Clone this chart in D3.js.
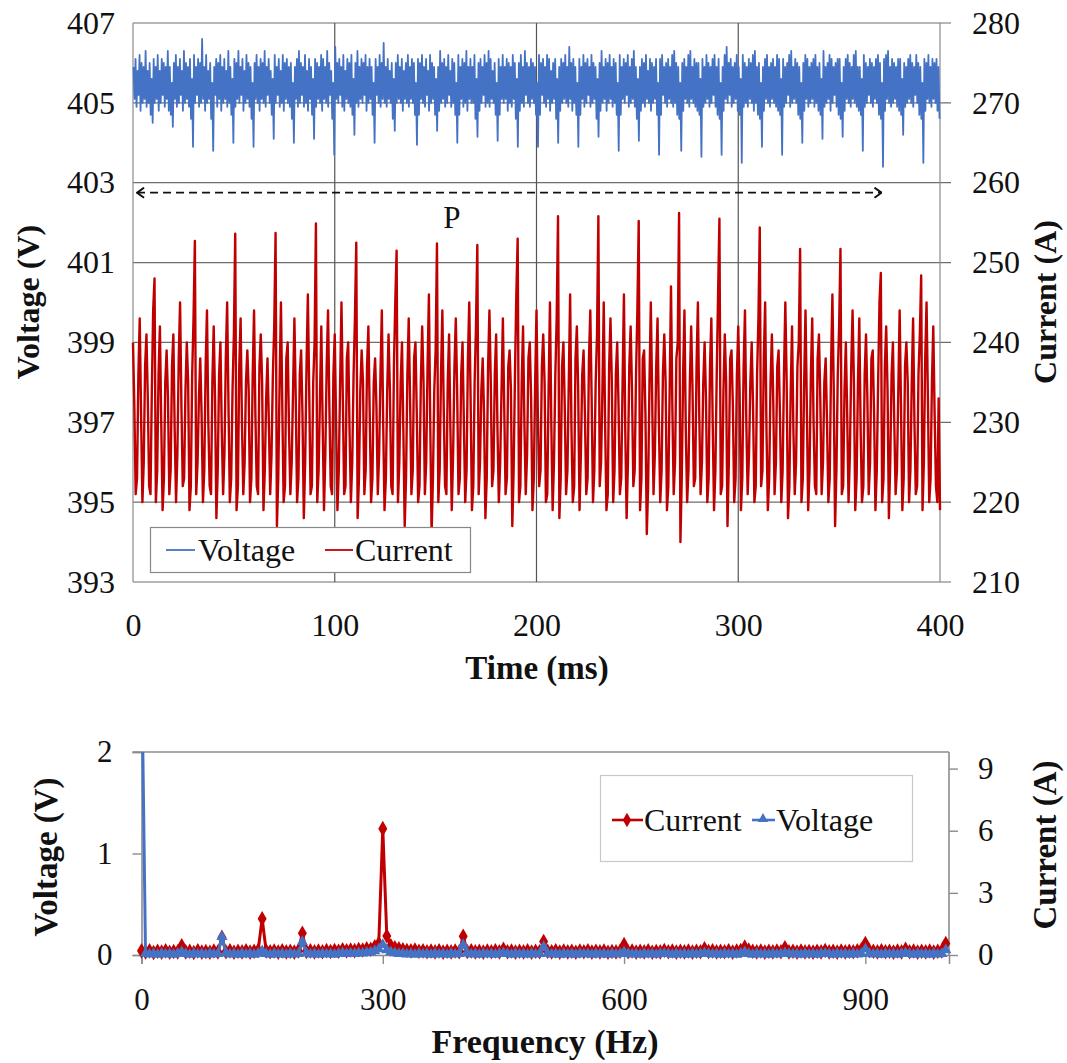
<!DOCTYPE html>
<html><head><meta charset="utf-8">
<script src="https://cdn.jsdelivr.net/npm/d3@7"></script>
<style>body{margin:0;background:#fff}svg{display:block}</style>
</head><body>
<svg id="c" width="1067" height="1063"></svg>
<script>
// ---------- top chart: time-domain waveforms ----------
const timeTicks = [0, 100, 200, 300, 400];
const voltageTicks = [393, 395, 397, 399, 401, 403, 405, 407];
const currentTicks = [210, 220, 230, 240, 250, 260, 270, 280];
const voltageBinMs = 1;         // voltage given as max/min per 1 ms bin
const currentStepMs = 2 / 3;    // one current sample per 2/3 ms

// Voltage (V): maximum in each 1 ms bin, 0..400 ms
const voltageHigh = [
405.9,406.1,405.8,406.2,406.0,405.9,406.3,405.8,406.0,405.6,
406.1,405.9,406.2,405.8,406.1,406.0,405.9,406.3,405.9,405.5,
406.0,406.2,405.9,406.1,405.8,406.3,406.0,405.9,406.1,405.6,
406.2,405.9,406.1,406.0,406.6,405.9,406.2,405.8,406.0,405.5,
405.9,406.1,406.0,406.2,405.9,406.1,405.8,406.3,405.9,405.6,
406.1,406.0,406.3,405.9,406.1,405.8,406.2,406.0,405.9,405.5,
406.0,406.2,405.9,406.1,406.0,406.3,405.9,406.1,405.8,405.6,
406.2,405.9,406.1,405.8,406.2,406.0,406.1,405.9,406.0,405.5,
405.9,406.1,406.3,406.0,405.9,406.2,405.8,406.1,405.9,405.6,
406.1,406.0,405.9,406.2,406.1,405.9,406.3,406.0,405.8,405.5,
406.4,406.0,406.1,405.9,406.2,405.8,406.1,406.0,406.2,405.6,
406.0,406.3,405.9,406.1,406.0,406.2,405.9,406.1,405.9,405.5,
406.1,405.9,406.2,406.0,406.5,405.9,406.1,405.8,406.0,405.6,
406.0,406.2,405.9,406.1,405.8,406.0,406.2,405.9,406.1,406.0,
405.5,406.1,406.0,406.2,405.9,406.1,405.8,406.2,406.0,405.9,
405.6,405.9,406.3,406.0,406.1,405.9,406.2,405.8,406.1,406.0,
405.5,406.2,405.9,406.1,406.0,406.3,405.9,406.1,405.9,406.2,
405.6,406.0,406.1,405.9,406.2,406.0,406.3,406.1,405.8,406.0,
405.5,406.1,405.9,406.2,405.9,406.1,406.0,405.9,406.2,406.0,
405.6,406.0,406.2,405.9,406.3,406.0,405.9,406.1,406.0,405.9,
405.5,406.2,406.0,406.1,405.9,406.2,406.1,405.8,406.0,406.1,
405.6,405.9,406.1,406.0,406.2,405.9,406.4,406.0,406.1,405.9,
405.5,406.1,405.9,406.2,406.0,406.1,405.9,406.2,406.0,405.9,
405.6,406.0,406.3,405.9,406.1,406.0,406.2,405.9,406.1,406.0,
405.5,406.2,405.9,406.1,406.0,406.2,405.9,406.1,406.3,405.9,
405.6,405.9,406.1,406.0,406.2,405.8,406.1,406.0,405.9,406.1,
405.5,406.1,406.2,405.9,406.0,406.1,405.9,406.2,406.3,406.0,
405.9,405.5,406.0,406.1,405.9,406.2,406.3,405.9,406.1,406.0,
406.0,405.6,406.1,405.9,406.2,406.0,405.9,406.1,406.2,405.9,
406.1,405.5,405.9,406.2,406.4,406.0,406.1,405.9,406.0,406.2,
405.9,405.6,406.2,406.0,405.9,406.1,406.0,406.2,406.3,405.9,
406.0,405.5,405.9,406.1,406.2,405.9,406.0,406.1,405.9,406.2,
406.1,405.6,406.1,405.9,406.0,406.2,406.3,405.9,406.1,406.0,
405.9,405.5,406.0,406.2,406.1,405.9,406.0,406.1,406.2,405.9,
406.0,405.6,406.3,405.9,406.0,406.2,406.1,405.9,406.0,406.1,
406.1,405.5,405.9,406.1,406.2,406.0,405.9,406.2,406.3,405.9,
405.9,405.6,406.2,406.0,405.9,406.1,406.0,405.9,406.1,406.2,
406.0,405.5,406.1,406.2,406.3,405.9,406.1,406.0,405.9,406.1,
406.1,405.6,406.0,405.9,406.1,406.2,406.0,405.9,406.2,406.0,
405.9,405.5,406.1,406.0,406.2,405.9,406.1,406.0,406.1,405.9];

// Voltage (V): minimum in each 1 ms bin, 0..400 ms
const voltageLow = [
405.1,404.9,405.2,404.8,405.0,405.1,404.9,405.0,404.7,404.5,
405.0,405.1,404.8,405.0,405.2,404.9,405.1,404.8,404.7,404.4,
405.1,404.9,405.0,405.2,404.8,405.0,405.1,404.9,404.6,403.9,
405.0,405.2,404.9,405.0,405.1,404.8,405.0,405.1,404.6,403.8,
405.2,404.9,405.1,404.8,405.0,405.1,404.9,405.0,404.7,404.0,
404.9,405.1,405.0,405.2,404.8,405.0,405.1,404.9,404.6,403.9,
405.1,405.0,404.8,405.1,405.0,404.9,405.2,405.0,404.7,404.1,
405.0,405.2,404.9,405.0,404.8,405.1,405.0,404.9,404.6,404.0,
405.1,404.9,405.0,405.2,404.9,405.0,404.8,405.1,404.7,404.1,
404.9,405.1,405.0,404.8,405.1,405.0,404.9,405.2,404.6,403.7,
405.1,405.0,405.2,404.9,404.8,405.1,405.0,404.9,404.7,404.2,
405.0,404.9,405.1,405.0,405.2,404.8,405.0,405.1,404.7,404.0,
405.2,405.0,404.9,405.1,405.0,404.9,405.1,405.0,404.6,404.3,
405.0,405.1,405.0,404.8,405.1,405.0,404.9,405.1,405.0,404.7,
403.95,404.7,405.1,405.0,404.9,405.2,404.8,405.0,405.1,404.7,
404.3,404.8,405.0,405.1,404.9,405.0,405.2,404.9,405.0,404.7,
404.0,404.7,405.1,404.9,405.0,404.8,405.1,405.0,405.0,404.6,
404.15,404.8,405.0,405.2,404.9,405.0,404.9,405.1,405.0,404.7,
404.05,404.7,405.1,405.0,405.1,404.8,405.0,404.9,405.1,404.6,
403.9,404.8,405.0,404.9,405.2,405.0,404.9,405.1,405.0,404.7,
403.9,404.7,405.2,405.0,404.9,405.1,404.8,405.0,405.1,404.6,
404.0,404.8,405.0,405.1,405.0,404.9,405.1,404.8,405.0,404.7,
403.9,404.7,405.1,404.9,405.0,405.2,404.9,405.0,405.1,404.6,
404.15,404.8,405.0,405.1,404.8,405.0,405.1,404.9,405.0,404.7,
403.8,404.7,405.1,405.0,405.2,404.9,405.0,405.1,404.9,404.6,
404.05,404.8,405.0,404.9,405.1,405.0,404.8,405.0,405.1,404.7,
403.7,404.7,405.2,405.0,404.9,405.1,405.0,404.9,405.0,404.7,
404.6,403.8,404.8,405.1,405.0,404.9,405.1,405.0,404.9,404.8,
404.7,403.65,404.9,405.0,405.1,404.9,405.0,405.2,404.9,404.7,
404.6,403.7,404.8,405.1,405.0,405.2,404.9,405.0,405.1,404.8,
404.7,403.5,404.9,405.0,404.9,405.1,405.0,404.8,405.0,404.7,
404.6,403.9,404.8,405.1,405.0,404.9,405.1,405.0,404.9,404.8,
404.7,403.7,404.9,405.0,405.2,404.9,405.0,405.1,405.0,404.7,
404.6,404.0,404.8,405.1,404.9,405.0,405.1,404.9,405.0,404.8,
404.7,404.1,404.9,405.0,405.1,404.8,405.0,405.2,404.9,404.7,
404.6,404.15,404.8,405.1,405.0,404.9,405.1,405.0,404.9,404.8,
404.7,403.8,404.9,405.0,405.2,405.0,404.9,405.1,405.0,404.7,
404.6,403.4,404.8,405.1,405.0,404.9,405.0,405.1,404.9,404.8,
404.7,404.2,404.9,405.0,405.1,405.0,404.9,405.2,405.0,404.7,
404.6,403.5,404.8,405.1,405.0,404.9,405.1,405.0,404.8,404.6];

// Current (A), sampled every 2/3 ms from 0 to 400 ms
const currentWave = [
240,232,221,223,236, 243,231,220,225,237, 241,233,222,221,234, 244,248,220,224,236, 242,230,219,223,235, 239,233,221,224,237,
241,229,220,226,238, 245,232,222,223,234, 240,235,219,222,236, 243,252.7,221,225,233, 238,231,220,224,237, 244,230,222,221,235,
242,233,218,224,236, 240,229,221,226,238, 245,232,220,223,234, 241,253.6,219,222,237, 243,230,221,225,235, 239,234,220,223,236,
244,231,222,221,237, 241,235,219,224,233, 238,230,221,226,236, 242,253.7,217,223,235, 245,232,220,222,238, 240,229,221,225,234,
243,233,220,223,236, 239,231,218,225,237, 246,234,221,222,235, 240,254.9,220,224,233, 242,230,219,226,237, 244,232,222,221,236,
241,230,219,224,235, 245,233,221,222,238, 240,229,220,225,236, 243,252.5,218,223,234, 239,235,221,224,237, 242,231,220,223,235,
238,232,221,226,236, 244,230,219,223,234, 241,234,222,221,237, 245,251.5,220,225,235, 240,229,217,223,236, 243,233,221,224,238,
240,231,220,222,235, 242,235,221,225,237, 246,230,216,223,234, 239,252.4,220,224,236, 244,232,222,221,235, 241,229,219,226,237,
243,234,221,223,236, 240,230,220,224,238, 245,233,219,222,235, 242,252.2,221,225,234, 238,231,218,223,237, 244,235,222,224,236,
241,229,220,225,234, 243,232,221,223,237, 239,234,217,224,236, 246,253,220,222,235, 242,230,221,226,238, 240,233,219,223,235,
244,231,222,224,237, 241,235,220,221,234, 245,230,219,225,236, 243,255.8,218,223,237, 240,232,221,224,235, 246,229,220,222,238,
242,234,219,226,236, 239,231,221,223,238, 244,233,220,224,235, 241,255.8,222,225,234, 245,230,219,221,237, 243,235,220,224,236,
240,232,221,223,235, 246,229,218,225,237, 242,234,222,224,236, 244,255.2,219,223,238, 239,231,216,222,235, 245,233,221,226,237,
243,230,220,224,236, 241,235,219,222,234, 247,232,221,225,238, 240,256.2,215,223,236, 244,229,220,224,235, 242,234,222,223,237,
245,231,221,225,235, 240,233,220,223,237, 243,230,219,224,236, 246,255.5,221,222,234, 241,235,217,225,238, 239,232,220,223,236,
242,234,219,223,237, 244,230,221,226,235, 240,232,220,222,236, 243,254.4,222,224,238, 245,229,219,223,235, 241,233,221,225,237,
239,231,220,224,236, 245,235,218,222,234, 242,229,221,225,237, 240,251.7,220,223,235, 244,232,219,224,236, 243,230,222,221,238,
241,233,221,225,235, 238,230,220,223,237, 246,234,217,224,236, 242,251.7,221,222,234, 240,231,220,226,237, 244,235,219,223,235,
243,229,220,222,236, 241,233,221,225,238, 239,231,219,224,235, 245,248.7,220,223,237, 242,234,218,225,236, 240,230,221,224,234,
244,232,219,223,237, 240,235,220,224,235, 243,230,221,222,236, 241,248.4,219,225,238, 245,233,220,223,235, 242,231,222,220,233,
219];

// ---------- bottom chart: spectrum ----------
const freqTicks = [0, 300, 600, 900];
const specVoltageTicks = [0, 1, 2];
const specCurrentTicks = [0, 3, 6, 9];
const freqStepHz = 5;
// Current harmonic amplitude (A), every 5 Hz from 0 to 1000 Hz
const currentSpectrum = [
0.2,0.15,0.2,0.12,0.18,0.14,0.2,0.13,0.17,0.15, 0.45,0.15,0.18,0.12,0.2,0.14,0.17,0.13,0.19,0.15,
0.85,0.16,0.2,0.13,0.18,0.15,0.2,0.14,0.18,0.22, 1.75,0.2,0.16,0.19,0.14,0.2,0.15,0.18,0.14,0.2,
1.05,0.17,0.2,0.15,0.19,0.16,0.21,0.17,0.22,0.18, 0.25,0.2,0.24,0.21,0.26,0.24,0.3,0.28,0.4,0.55,
6.1,0.92,0.45,0.35,0.3,0.25,0.22,0.2,0.24,0.18, 0.2,0.16,0.19,0.15,0.2,0.14,0.18,0.15,0.19,0.16,
0.9,0.17,0.2,0.15,0.18,0.14,0.19,0.16,0.2,0.15, 0.28,0.16,0.19,0.14,0.18,0.15,0.2,0.14,0.18,0.16,
0.65,0.18,0.15,0.2,0.14,0.19,0.15,0.18,0.13,0.19, 0.16,0.2,0.14,0.18,0.15,0.19,0.13,0.17,0.15,0.18,
0.5,0.16,0.19,0.14,0.18,0.15,0.2,0.13,0.17,0.15, 0.22,0.16,0.19,0.14,0.18,0.15,0.19,0.14,0.18,0.16,
0.3,0.17,0.2,0.15,0.18,0.16,0.2,0.14,0.19,0.22, 0.38,0.24,0.18,0.15,0.19,0.14,0.18,0.15,0.19,0.16,
0.35,0.15,0.18,0.14,0.19,0.15,0.17,0.14,0.18,0.15, 0.22,0.15,0.18,0.14,0.19,0.15,0.18,0.16,0.2,0.25,
0.55,0.22,0.18,0.15,0.2,0.16,0.18,0.14,0.19,0.15, 0.28,0.16,0.19,0.14,0.18,0.15,0.19,0.14,0.18,0.2,
0.55];
// Voltage harmonic amplitude (V), every 5 Hz from 0 to 1000 Hz (DC is off-scale)
const voltageSpectrum = [
405,0.015,0.008,0.012,0.006,0.014,0.008,0.012,0.006,0.014, 0.03,0.012,0.006,0.014,0.008,0.012,0.006,0.014,0.008,0.012,
0.18,0.02,0.008,0.012,0.006,0.014,0.008,0.012,0.006,0.014, 0.04,0.012,0.006,0.014,0.008,0.012,0.006,0.014,0.008,0.012,
0.13,0.02,0.008,0.012,0.006,0.014,0.008,0.012,0.006,0.014, 0.02,0.012,0.016,0.014,0.02,0.018,0.025,0.028,0.04,0.06,
0.1,0.05,0.03,0.02,0.012,0.014,0.008,0.012,0.006,0.014, 0.008,0.012,0.006,0.014,0.008,0.012,0.006,0.014,0.008,0.012,
0.1,0.02,0.008,0.012,0.006,0.014,0.008,0.012,0.006,0.014, 0.02,0.012,0.006,0.014,0.008,0.012,0.006,0.014,0.008,0.012,
0.08,0.015,0.008,0.012,0.006,0.014,0.008,0.012,0.006,0.014, 0.01,0.012,0.006,0.014,0.008,0.012,0.006,0.014,0.008,0.012,
0.03,0.012,0.008,0.012,0.006,0.014,0.008,0.012,0.006,0.014, 0.015,0.012,0.006,0.014,0.008,0.012,0.006,0.014,0.008,0.012,
0.02,0.012,0.008,0.012,0.006,0.014,0.008,0.012,0.006,0.014, 0.03,0.012,0.006,0.014,0.008,0.012,0.006,0.014,0.008,0.012,
0.02,0.012,0.008,0.012,0.006,0.014,0.008,0.012,0.006,0.014, 0.015,0.012,0.006,0.014,0.008,0.012,0.006,0.014,0.008,0.012,
0.06,0.015,0.008,0.012,0.006,0.014,0.008,0.012,0.006,0.014, 0.02,0.012,0.006,0.014,0.008,0.012,0.006,0.014,0.008,0.012,
0.05];

const BLUE = "#4472C4", RED = "#C00000";
const FONT = "'Liberation Serif', 'Times New Roman', Times, serif";
const svg = d3.select("#c").attr("font-family", FONT);
const txt = sel => sel.attr("font-family", FONT).attr("fill", "#111");

// ===================== TOP CHART =====================
const T = {l: 133, r: 940, t: 23, b: 582};
const x1 = d3.scaleLinear([0, 400], [T.l, T.r]);
const yV1 = d3.scaleLinear([393, 407], [T.b, T.t]);
const yI1 = d3.scaleLinear([210, 280], [T.b, T.t]);
const g1 = svg.append("g");

g1.selectAll("line.hg").data(voltageTicks).join("line")
  .attr("x1", T.l).attr("x2", T.r + 11)
  .attr("y1", d => yV1(d)).attr("y2", d => yV1(d))
  .attr("stroke", "#6e6e6e").attr("stroke-width", 1.2);
g1.selectAll("line.vg").data(timeTicks).join("line")
  .attr("x1", d => x1(d)).attr("x2", d => x1(d))
  .attr("y1", T.t).attr("y2", T.b)
  .attr("stroke", d => (d === 0 || d === 400) ? "#8a8a8a" : "#555").attr("stroke-width", 1.2);

// voltage: min/max per bin drawn as one continuous trace
const voltagePoints = voltageHigh.flatMap((h, i) => [
  [(i + 0.25) * voltageBinMs, h], [(i + 0.75) * voltageBinMs, voltageLow[i]]
]);
g1.append("path").datum(voltagePoints)
  .attr("d", d3.line().x(d => x1(d[0])).y(d => yV1(d[1])))
  .attr("fill", "none").attr("stroke", BLUE).attr("stroke-width", 1.8).attr("stroke-linejoin", "round");
g1.append("path").datum(currentWave)
  .attr("d", d3.line().x((d, i) => x1(i * currentStepMs)).y(d => yI1(d)))
  .attr("fill", "none").attr("stroke", RED).attr("stroke-width", 2.4).attr("stroke-linejoin", "round");

const axL1 = g1.append("g").attr("transform", `translate(${T.l},0)`)
  .call(d3.axisLeft(yV1).tickValues(voltageTicks).tickSize(0).tickPadding(18));
const axR1 = g1.append("g").attr("transform", `translate(${T.r},0)`)
  .call(d3.axisRight(yI1).tickValues(currentTicks).tickSize(0).tickPadding(32));
const axB1 = g1.append("g").attr("transform", `translate(0,${T.b})`)
  .call(d3.axisBottom(x1).tickValues(timeTicks).tickSize(0).tickPadding(31));
[axL1, axR1, axB1].forEach(a => {
  a.attr("font-family", FONT);
  a.select(".domain").remove();
  a.selectAll("text").attr("font-size", 32).call(txt);
});

// dashed period arrow
const defs = svg.append("defs");
["arrEnd", "arrStart"].forEach((id, k) => {
  defs.append("marker").attr("id", id).attr("viewBox", "0 0 12 12")
    .attr("refX", k === 0 ? 11 : 1).attr("refY", 6).attr("markerWidth", 12).attr("markerHeight", 12)
    .attr("markerUnits", "userSpaceOnUse").attr("orient", "auto")
    .append("path").attr("d", k === 0 ? "M4,1 L11,6 L4,11" : "M8,1 L1,6 L8,11")
    .attr("fill", "none").attr("stroke", "#111").attr("stroke-width", 2);
});
g1.append("line").attr("x1", x1(2)).attr("x2", x1(371)).attr("y1", yV1(402.75)).attr("y2", yV1(402.75))
  .attr("stroke", "#111").attr("stroke-width", 1.7).attr("stroke-dasharray", "8,5")
  .attr("marker-start", "url(#arrStart)").attr("marker-end", "url(#arrEnd)");
g1.append("text").attr("x", x1(158)).attr("y", 228).attr("text-anchor", "middle")
  .attr("font-size", 31).call(txt).text("P");

// legend
const lg1 = g1.append("g");
lg1.append("rect").attr("x", 150.5).attr("y", 527.5).attr("width", 320).attr("height", 45)
  .attr("fill", "#fff").attr("stroke", "#888").attr("stroke-width", 1.2);
lg1.append("line").attr("x1", 166).attr("x2", 195).attr("y1", 550).attr("y2", 550).attr("stroke", BLUE).attr("stroke-width", 1.8);
lg1.append("text").attr("x", 198).attr("y", 561).attr("font-size", 32).call(txt).text("Voltage");
lg1.append("line").attr("x1", 325).attr("x2", 353).attr("y1", 550).attr("y2", 550).attr("stroke", RED).attr("stroke-width", 1.8);
lg1.append("text").attr("x", 355).attr("y", 561).attr("font-size", 32).call(txt).text("Current");

// titles
g1.append("text").attr("transform", "translate(39,302) rotate(-90)").attr("text-anchor", "middle")
  .attr("font-size", 32).attr("font-weight", "bold").call(txt).text("Voltage (V)");
g1.append("text").attr("transform", "translate(1056,302) rotate(-90)").attr("text-anchor", "middle")
  .attr("font-size", 32).attr("font-weight", "bold").call(txt).text("Current (A)");
g1.append("text").attr("x", 537).attr("y", 679).attr("text-anchor", "middle")
  .attr("font-size", 33).attr("font-weight", "bold").call(txt).text("Time (ms)");

// ===================== BOTTOM CHART =====================
const B = {l: 141.5, r: 949, t: 752, b: 955};
const x2 = d3.scaleLinear([0, 1004], [B.l, B.r]);
const yV2 = d3.scaleLinear([0, 2], [B.b, B.t]);
const yI2 = d3.scaleLinear([0, 9.8], [B.b, B.t]);
const g2 = svg.append("g");

defs.append("clipPath").attr("id", "clip2").append("rect")
  .attr("x", B.l - 6).attr("y", B.t).attr("width", B.r - B.l + 12).attr("height", B.b - B.t + 8);

g2.append("line").attr("x1", B.l - 9).attr("x2", B.r).attr("y1", B.t).attr("y2", B.t).attr("stroke", "#8c8c8c").attr("stroke-width", 1.6);
g2.append("line").attr("x1", B.r).attr("x2", B.r).attr("y1", B.t).attr("y2", B.b).attr("stroke", "#8c8c8c").attr("stroke-width", 1.6);

const axL2 = g2.append("g").attr("transform", `translate(${B.l},0)`)
  .call(d3.axisLeft(yV2).tickValues(specVoltageTicks).tickFormat(d3.format("d")).tickSize(9).tickPadding(20));
const axR2 = g2.append("g").attr("transform", `translate(${B.r},0)`)
  .call(d3.axisRight(yI2).tickValues(specCurrentTicks).tickFormat(d3.format("d")).tickSize(9).tickPadding(20));
const axB2 = g2.append("g").attr("transform", `translate(0,${B.b})`)
  .call(d3.axisBottom(x2).tickValues(freqTicks).tickFormat(d3.format("d")).tickSize(9).tickPadding(24));
[axL2, axR2, axB2].forEach(a => {
  a.attr("font-family", FONT);
  a.select(".domain").attr("stroke", "#8c8c8c").attr("stroke-width", 1.6);
  a.selectAll(".tick line").attr("stroke", "#8c8c8c").attr("stroke-width", 1.4);
  a.selectAll("text").attr("font-size", 31).call(txt);
});
axR2.select(".domain").remove();

const plot2 = g2.append("g").attr("clip-path", "url(#clip2)");
const lineI2 = d3.line().x((d, i) => x2(i * freqStepHz)).y(d => yI2(d));
const lineV2 = d3.line().x((d, i) => x2(i * freqStepHz)).y(d => yV2(Math.min(d, 3)));
plot2.append("path").datum(currentSpectrum).attr("d", lineI2)
  .attr("fill", "none").attr("stroke", RED).attr("stroke-width", 3).attr("stroke-linejoin", "round");
plot2.selectAll("path.dm").data(currentSpectrum).join("path").attr("class", "dm")
  .attr("transform", (d, i) => `translate(${x2(i * freqStepHz)},${yI2(d)})`)
  .attr("d", d3.symbol(d3.symbolDiamond, 70)()).attr("fill", RED);
plot2.append("path").datum(voltageSpectrum).attr("d", lineV2)
  .attr("fill", "none").attr("stroke", BLUE).attr("stroke-width", 3).attr("stroke-linejoin", "round");
plot2.selectAll("path.tr").data(voltageSpectrum).join("path").attr("class", "tr")
  .attr("transform", (d, i) => `translate(${x2(i * freqStepHz)},${yV2(Math.min(d, 3))})`)
  .attr("d", d3.symbol(d3.symbolTriangle, 55)()).attr("fill", BLUE);

// legend
const lg2 = g2.append("g");
lg2.append("rect").attr("x", 600.5).attr("y", 775.5).attr("width", 312).attr("height", 86)
  .attr("fill", "#fff").attr("stroke", "#c8c8c8").attr("stroke-width", 1.2);
lg2.append("line").attr("x1", 612).attr("x2", 643).attr("y1", 820).attr("y2", 820).attr("stroke", RED).attr("stroke-width", 2.6);
lg2.append("path").attr("transform", "translate(627,820)").attr("d", d3.symbol(d3.symbolDiamond, 60)()).attr("fill", RED);
lg2.append("text").attr("x", 644).attr("y", 831).attr("font-size", 32).call(txt).text("Current");
lg2.append("line").attr("x1", 752).attr("x2", 775).attr("y1", 820).attr("y2", 820).attr("stroke", BLUE).attr("stroke-width", 2.6);
lg2.append("path").attr("transform", "translate(763,819)").attr("d", d3.symbol(d3.symbolTriangle, 45)()).attr("fill", BLUE);
lg2.append("text").attr("x", 776).attr("y", 831).attr("font-size", 32).call(txt).text("Voltage");

// titles
g2.append("text").attr("transform", "translate(57,857) rotate(-90)").attr("text-anchor", "middle")
  .attr("font-size", 33).attr("font-weight", "bold").call(txt).text("Voltage (V)");
g2.append("text").attr("transform", "translate(1056,845) rotate(-90)").attr("text-anchor", "middle")
  .attr("font-size", 33).attr("font-weight", "bold").call(txt).text("Current (A)");
g2.append("text").attr("x", 545).attr("y", 1053).attr("text-anchor", "middle")
  .attr("font-size", 34).attr("font-weight", "bold").call(txt).text("Frequency (Hz)");
</script>
</body></html>
